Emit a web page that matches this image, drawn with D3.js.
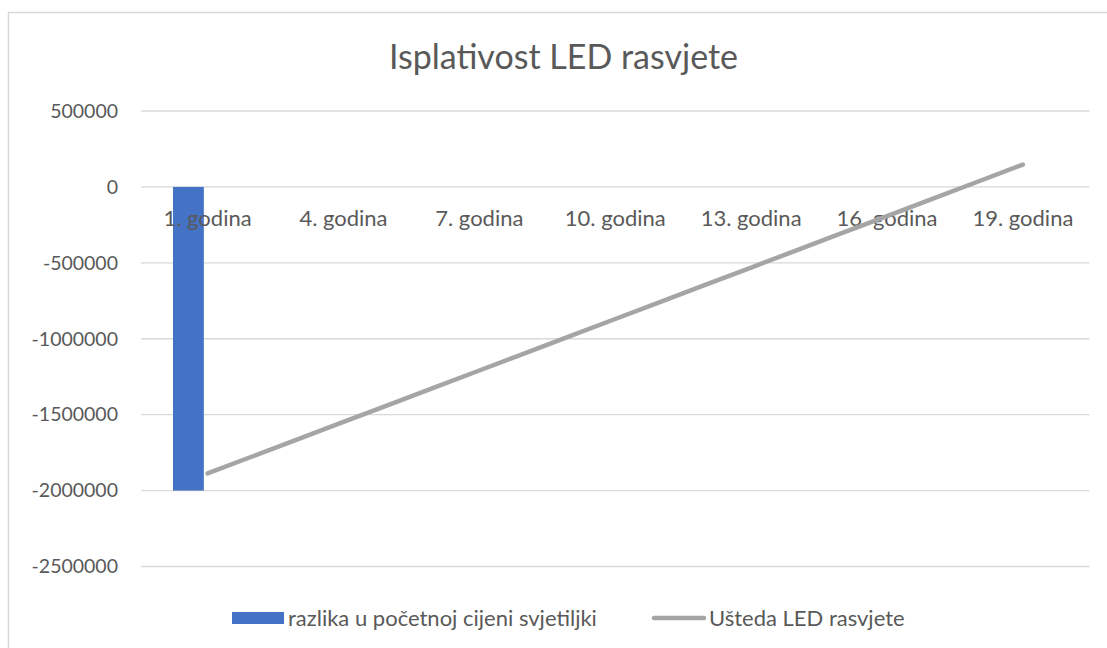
<!DOCTYPE html>
<html>
<head>
<meta charset="utf-8">
<script src="https://cdn.jsdelivr.net/npm/d3@7"></script>
<style>
  body { margin: 0; background: #fff; }
  text { font-family: Lato, "Open Sans", sans-serif; fill: #595959; }
</style>
</head>
<body>
<svg id="chart" width="1107" height="648"></svg>
<script>

// data
var years = ["1. godina", "2. godina", "3. godina", "4. godina", "5. godina", "6. godina",
	"7. godina", "8. godina", "9. godina", "10. godina", "11. godina", "12. godina",
	"13. godina", "14. godina", "15. godina", "16. godina", "17. godina", "18. godina", "19. godina"];
var ustedaValues = [-1887000, -1774000, -1661000, -1548000, -1435000, -1322000,
	-1209000, -1096000, -983000, -870000, -757000, -644000,
	-531000, -418000, -305000, -192000, -79000, 34000, 147000];
var razlikaValues = [-2000000];
var yTicks = [500000, 0, -500000, -1000000, -1500000, -2000000, -2500000];
var shownYears = ["1. godina", "4. godina", "7. godina", "10. godina", "13. godina", "16. godina", "19. godina"];

var svg = d3.select("#chart");
var left = 141, right = 1089.5;

// chart frame
svg.append("rect")
	.attr("x", 8.5).attr("y", 12.5)
	.attr("width", 1110).attr("height", 660)
	.attr("fill", "none")
	.attr("stroke", "#d9d9d9")
	.attr("stroke-width", 1.5);

svg.append("text")
	.attr("x", 563.5).attr("y", 69)
	.attr("text-anchor", "middle")
	.attr("font-size", 34)
	.text("Isplativost LED rasvjete");

var y = d3.scaleLinear()
	.domain([-2500000, 500000])
	.range([566.5, 111]);

// line series sits on tick marks, bar series on the primary (slot) axis
var x = d3.scalePoint()
	.domain(years)
	.range([left, right])
	.padding(1.47);

var xBar = d3.scaleBand()
	.domain(d3.range(10))
	.range([left, right])
	.paddingInner(0.675)
	.paddingOuter(0.3375);

// gridlines
svg.append("g").selectAll("line")
	.data(yTicks)
	.enter().append("line")
	.attr("x1", left).attr("x2", right)
	.attr("y1", function(d) { return y(d); })
	.attr("y2", function(d) { return y(d); })
	.attr("stroke", "#d9d9d9")
	.attr("stroke-width", 1.3);

svg.append("g").selectAll("text")
	.data(yTicks)
	.enter().append("text")
	.attr("x", 118)
	.attr("y", function(d) { return y(d); })
	.attr("dy", "0.35em")
	.attr("text-anchor", "end")
	.attr("font-size", 19.5)
	.text(function(d) { return String(d); });

// bar
svg.append("g").selectAll("rect")
	.data(razlikaValues)
	.enter().append("rect")
	.attr("x", function(d, i) { return xBar(i); })
	.attr("width", xBar.bandwidth())
	.attr("y", function(d) { return y(Math.max(0, d)); })
	.attr("height", function(d) { return Math.abs(y(d) - y(0)); })
	.attr("fill", "#4472c4");

// category labels (drawn over bar, as in Excel)
svg.append("g").selectAll("text")
	.data(shownYears)
	.enter().append("text")
	.attr("x", function(d) { return x(d); })
	.attr("y", y(0) + 39.5)
	.attr("text-anchor", "middle")
	.attr("font-size", 22)
	.text(function(d) { return d; });

var line = d3.line()
	.x(function(d, i) { return x(years[i]); })
	.y(function(d) { return y(d); });

svg.append("path")
	.datum(ustedaValues)
	.attr("d", line)
	.attr("fill", "none")
	.attr("stroke", "#a5a5a5")
	.attr("stroke-width", 4.5)
	.attr("stroke-linecap", "round");

// legend
var legend = svg.append("g");
legend.append("rect")
	.attr("x", 232).attr("y", 612)
	.attr("width", 52).attr("height", 12)
	.attr("fill", "#4472c4");
legend.append("text")
	.attr("x", 288).attr("y", 626)
	.attr("font-size", 22)
	.text("razlika u početnoj cijeni svjetiljki");
legend.append("line")
	.attr("x1", 654).attr("x2", 704)
	.attr("y1", 618).attr("y2", 618)
	.attr("stroke", "#a5a5a5")
	.attr("stroke-width", 4.5)
	.attr("stroke-linecap", "round");
legend.append("text")
	.attr("x", 709).attr("y", 626)
	.attr("font-size", 22)
	.text("Ušteda LED rasvjete");

</script>
</body>
</html>
